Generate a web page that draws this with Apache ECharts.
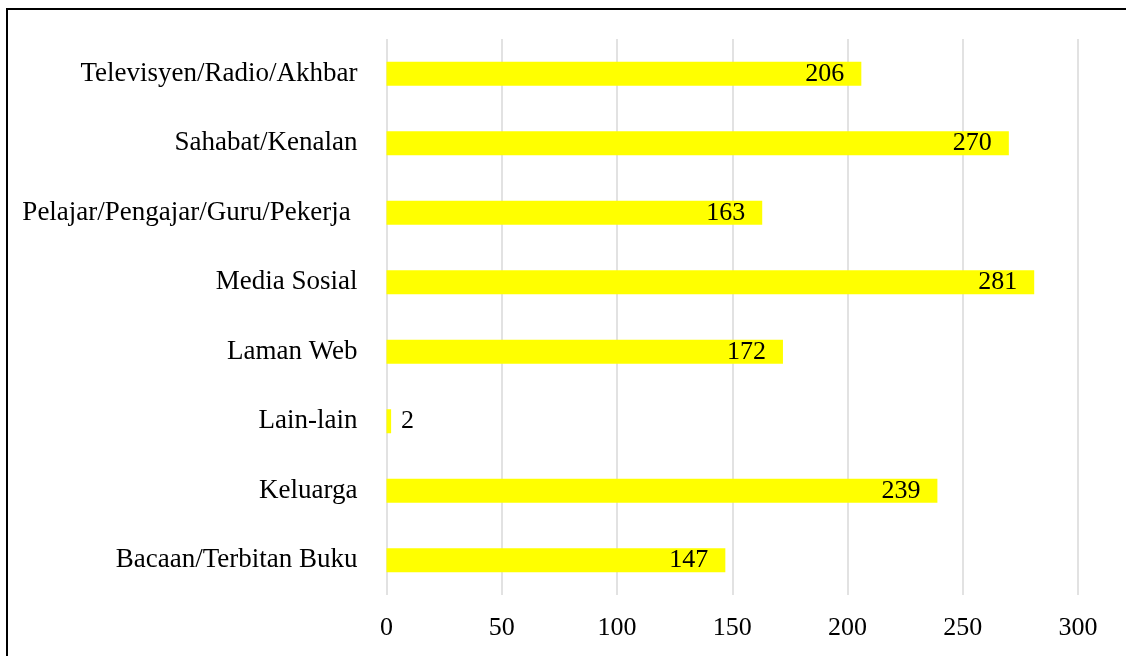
<!DOCTYPE html>
<html>
<head>
<meta charset="utf-8">
<script src="https://cdn.jsdelivr.net/npm/echarts@6/dist/echarts.min.js"></script>
<style>
html,body{margin:0;padding:0;background:#fff;}
#chart{width:1126px;height:656px;}
</style>
</head>
<body>
<div id="chart"></div>
<script>
const categories = [
  "Televisyen/Radio/Akhbar",
  "Sahabat/Kenalan",
  "Pelajar/Pengajar/Guru/Pekerja ",
  "Media Sosial",
  "Laman Web",
  "Lain-lain",
  "Keluarga",
  "Bacaan/Terbitan Buku"
];
const values = [206, 270, 163, 281, 172, 2, 239, 147];
const xTicks = { min: 0, max: 300, interval: 50 };

const font = "'Liberation Serif', 'Times New Roman', serif";

const chart = echarts.init(document.getElementById('chart'));
chart.setOption({
  animation: false,
  backgroundColor: '#ffffff',
  graphic: [{
    type: 'rect',
    shape: { x: 7, y: 9, width: 1300, height: 900 },
    style: { fill: 'none', stroke: '#000', lineWidth: 2 },
    silent: true,
    z: 100
  }],
  grid: { left: 386.5, right: 48, top: 39, bottom: 61, containLabel: false },
  xAxis: {
    type: 'value',
    min: xTicks.min, max: xTicks.max, interval: xTicks.interval,
    axisLine: { show: false },
    axisTick: { show: false },
    splitLine: { show: true, lineStyle: { color: '#d9d9d9', width: 1.5 } },
    axisLabel: { color: '#000', fontFamily: font, fontSize: 26, margin: 20 }
  },
  yAxis: {
    type: 'category',
    data: categories,
    inverse: true,
    axisLine: { show: false },
    axisTick: { show: false },
    axisLabel: { color: '#000', fontFamily: font, fontSize: 27, margin: 29 }
  },
  series: [{
    type: 'bar',
    data: values.map(v => ({
      value: v,
      label: v < 20 ? { position: 'right', distance: 10 } : undefined
    })),
    barWidth: 24,
    itemStyle: { color: '#ffff00' },
    label: {
      show: true,
      position: 'insideRight',
      distance: 17,
      color: '#000',
      fontFamily: font,
      fontSize: 26
    }
  }]
});
</script>
</body>
</html>
